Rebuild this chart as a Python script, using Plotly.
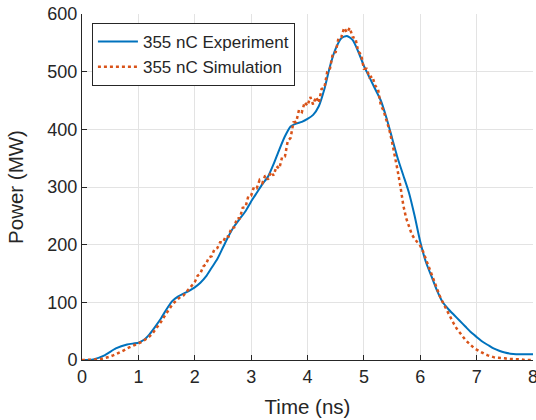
import numpy as np
import plotly.graph_objects as go

# Experiment (smooth) data
exp_t = [0.0, 0.2, 0.4, 0.6, 0.8, 1.0, 1.1, 1.2, 1.3, 1.4, 1.5, 1.6, 1.7, 1.8, 1.9,
         2.0, 2.1, 2.2, 2.3, 2.4, 2.5, 2.6, 2.7, 2.8, 2.9, 3.0, 3.1, 3.2, 3.3, 3.4,
         3.5, 3.6, 3.7, 3.8, 3.9, 4.0, 4.1, 4.2, 4.3, 4.4, 4.5, 4.6, 4.7, 4.8, 4.9,
         5.0, 5.1, 5.2, 5.3, 5.4, 5.5, 5.6, 5.7, 5.8, 5.9, 6.0, 6.1, 6.2, 6.3, 6.4,
         6.5, 6.6, 6.7, 6.8, 6.9, 7.0, 7.1, 7.2, 7.3, 7.4, 7.5, 7.6, 7.7, 7.8, 7.9, 8.0]
exp_p = [0, 1, 8, 20, 27, 30, 35, 45, 58, 72, 88, 102, 110, 115, 120,
         126, 134, 145, 160, 175, 195, 215, 232, 245, 258, 275, 290, 305, 318, 340,
         365, 388, 405, 410, 413, 418, 425, 440, 470, 510, 540, 558, 562, 555, 535,
         510, 490, 470, 450, 420, 385, 350, 320, 290, 250, 205, 170, 145, 120, 100,
         88, 78, 68, 58, 48, 40, 32, 26, 20, 16, 13, 11, 10, 10, 10, 10]

# Simulation (noisy) data, sampled every 0.05 ns from 0 to 8
sim_t = np.round(np.linspace(0, 8, 161), 2)
sim_p = [0, 0, 0, 0, 0, 1, 1, 2, 3, 4,
         6, 8, 10, 12, 15, 17, 20, 22, 25, 27,
         29, 31, 34, 37, 41, 46, 52, 59, 66, 74,
         82, 89, 96, 101, 105, 110, 112, 118, 122, 130,
         135, 146, 150, 162, 166, 178, 180, 192, 194, 204,
         204, 215, 214, 229, 230, 246, 246, 264, 265, 284,
         285, 300, 298, 312, 307, 320, 313, 326, 320, 336,
         332, 352, 353, 380, 385, 412, 413, 434, 430, 447,
         441, 456, 443, 456, 446, 470, 472, 500, 506, 532,
         534, 558, 560, 576, 568, 576, 560, 558, 535, 530,
         505, 505, 490, 492, 476, 470, 442, 432, 415, 400,
         378, 355, 328, 300, 268, 246, 230, 218, 210, 204,
         198, 188, 175, 163, 150, 136, 122, 110, 100, 90,
         80, 71, 62, 54, 47, 41, 35, 30, 25, 21,
         18, 15, 12, 10, 8, 6, 5, 4, 4, 3,
         3, 2, 2, 1, 1, 1, 1, 0, 0, 0,
         0]

x_ticks = [0, 1, 2, 3, 4, 5, 6, 7, 8]
y_ticks = [0, 100, 200, 300, 400, 500, 600]

FONT = "Liberation Sans, Arial, Helvetica, sans-serif"
TXT = "#262626"

fig = go.Figure()
fig.add_trace(go.Scatter(x=exp_t, y=exp_p, mode="lines", name="355 nC Experiment",
                         line=dict(color="#0072BD", width=2, shape="spline", smoothing=0.6)))
fig.add_trace(go.Scatter(x=sim_t, y=sim_p, mode="lines", name="355 nC Simulation",
                         line=dict(color="#D95319", width=2.5, dash="dot")))

fig.update_layout(
    width=536, height=420,
    margin=dict(l=82, r=3, t=14, b=60),
    paper_bgcolor="white", plot_bgcolor="white",
    font=dict(family=FONT, color=TXT, size=17),
    showlegend=True,
    legend=dict(x=0.022, y=0.974, xanchor="left", yanchor="top",
                bgcolor="white", bordercolor=TXT, borderwidth=1,
                font=dict(size=17, color=TXT), tracegroupgap=0,
                itemwidth=40),
)
fig.update_xaxes(range=[0, 8], tickvals=x_ticks, ticktext=[str(v) for v in x_ticks],
                 showgrid=True, gridcolor="#e3e3e3", gridwidth=1,
                 showline=True, linecolor=TXT, linewidth=1,
                 ticks="inside", ticklen=5, tickcolor=TXT,
                 tickfont=dict(size=18, color=TXT), ticklabeloverflow="allow",
                 zeroline=False, automargin=False,
                 title=dict(text="Time (ns)", font=dict(size=20.5, color=TXT), standoff=14))
fig.update_yaxes(range=[0, 600], tickvals=y_ticks, ticktext=[str(v) for v in y_ticks],
                 showgrid=True, gridcolor="#e3e3e3", gridwidth=1,
                 showline=True, linecolor=TXT, linewidth=1,
                 ticks="inside", ticklen=5, tickcolor=TXT,
                 tickfont=dict(size=18, color=TXT), ticklabeloverflow="allow",
                 zeroline=False, automargin=False,
                 title=dict(text="Power (MW)", font=dict(size=20.5, color=TXT), standoff=18))

fig.write_html("out.html",
               config={"displayModeBar": False},
               post_script="document.body.style.margin='0';document.body.style.overflow='hidden';")
